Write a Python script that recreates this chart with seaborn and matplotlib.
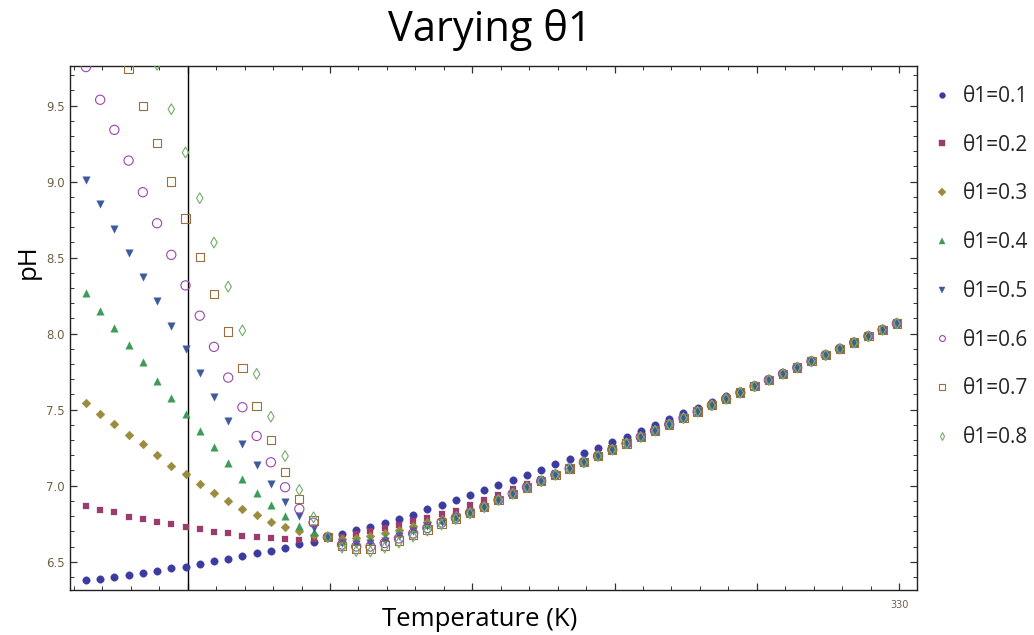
import numpy as np
import pandas as pd
import matplotlib
matplotlib.use("Agg")
import matplotlib.pyplot as plt
import seaborn as sns
from matplotlib.ticker import MultipleLocator, FixedLocator, FixedFormatter
from matplotlib.lines import Line2D

# ---------------- data ----------------
temperature = [301.42, 301.92, 302.42, 302.92, 303.42, 303.92, 304.42, 304.92, 305.42, 305.92,
               306.42, 306.92, 307.42, 307.92, 308.42, 308.92, 309.42, 309.92, 310.42, 310.92,
               311.42, 311.92, 312.42, 312.92, 313.42, 313.92, 314.42, 314.92, 315.42, 315.92,
               316.42, 316.92, 317.42, 317.92, 318.42, 318.92, 319.42, 319.92, 320.42, 320.92,
               321.42, 321.92, 322.42, 322.92, 323.42, 323.92, 324.42, 324.92, 325.42, 325.92,
               326.42, 326.92, 327.42, 327.92, 328.42, 328.92, 329.42, 329.92]

# shared high-temperature part of the curves for theta1 = 0.3 ... 0.8
common_tail = [6.906, 6.947, 6.989, 7.030, 7.071, 7.112, 7.154, 7.195, 7.237, 7.278,
               7.320, 7.362, 7.403, 7.445, 7.487, 7.529, 7.571, 7.612, 7.654, 7.695,
               7.736, 7.777, 7.818, 7.859, 7.900, 7.941, 7.983, 8.025, 8.067]

ph_01 = [6.380, 6.388, 6.397, 6.412, 6.424, 6.441, 6.457, 6.467, 6.485, 6.503,
         6.518, 6.539, 6.555, 6.568, 6.590, 6.616, 6.632, 6.662, 6.680, 6.707,
         6.730, 6.755, 6.781, 6.809, 6.845, 6.871,
         6.904, 6.938, 6.971, 7.005, 7.039, 7.071, 7.106, 7.140, 7.178, 7.213,
         7.251, 7.286, 7.321, 7.359, 7.398, 7.436, 7.475, 7.510, 7.549, 7.587,
         7.625, 7.664, 7.703, 7.743, 7.782, 7.822, 7.862, 7.903, 7.943, 7.984,
         8.026, 8.067]

ph_02 = [6.868, 6.842, 6.825, 6.796, 6.781, 6.763, 6.746, 6.730, 6.712, 6.695,
         6.686, 6.669, 6.661, 6.657, 6.649, 6.645, 6.647, 6.662,
         6.664, 6.684, 6.700, 6.720, 6.742, 6.765, 6.790, 6.812,
         6.836, 6.871, 6.906, 6.940, 6.975, 7.011, 7.047, 7.084, 7.122, 7.162,
         7.201, 7.241, 7.281, 7.322, 7.363,
         7.403, 7.445, 7.487, 7.529, 7.571, 7.612, 7.654, 7.695, 7.736, 7.777,
         7.818, 7.859, 7.900, 7.941, 7.983, 8.025, 8.067]

ph_03 = [7.542, 7.472, 7.404, 7.334, 7.272, 7.202, 7.132, 7.074, 7.011, 6.950,
         6.899, 6.847, 6.807, 6.759, 6.726, 6.699, 6.676, 6.662,
         6.649, 6.656, 6.666, 6.686, 6.709, 6.732, 6.758, 6.784, 6.804, 6.834,
         6.868] + common_tail

ph_04 = [8.266, 8.151, 8.036, 7.926, 7.812, 7.689, 7.575, 7.470, 7.360, 7.253,
         7.147, 7.044, 6.954, 6.873, 6.803, 6.738, 6.697, 6.662,
         6.636, 6.636, 6.643, 6.662, 6.689, 6.715, 6.745, 6.774, 6.797, 6.829,
         6.865] + common_tail

ph_05 = [9.011, 8.853, 8.687, 8.533, 8.375, 8.215, 8.053, 7.897, 7.739, 7.582,
         7.426, 7.274, 7.136, 7.009, 6.895, 6.801, 6.722, 6.662,
         6.623, 6.616, 6.620, 6.639, 6.669, 6.699, 6.732, 6.764, 6.792, 6.825,
         6.862] + common_tail

ph_06 = [9.753, 9.538, 9.340, 9.138, 8.930, 8.726, 8.518, 8.317, 8.118, 7.913,
         7.711, 7.516, 7.327, 7.154, 6.990, 6.847, 6.757, 6.662,
         6.613, 6.600, 6.600, 6.623, 6.653, 6.686, 6.722, 6.758, 6.788, 6.822,
         6.861] + common_tail

ph_07 = [None, None, None, 9.739, 9.498, 9.253, 9.000, 8.757, 8.503, 8.259,
         8.013, 7.772, 7.524, 7.301, 7.092, 6.911, 6.771, 6.662,
         6.603, 6.584, 6.582, 6.607, 6.639, 6.676, 6.712, 6.751, 6.784, 6.819,
         6.859] + common_tail

ph_08 = [None, None, None, None, None, 9.768, 9.476, 9.191, 8.891, 8.599,
         8.309, 8.021, 7.735, 7.454, 7.195, 6.972, 6.792, 6.662,
         6.593, 6.570, 6.567, 6.593, 6.626, 6.666, 6.705, 6.745, 6.781, 6.817,
         6.858] + common_tail

series_labels = ["θ1=0.1", "θ1=0.2", "θ1=0.3", "θ1=0.4",
                 "θ1=0.5", "θ1=0.6", "θ1=0.7", "θ1=0.8"]
series_values = [ph_01, ph_02, ph_03, ph_04, ph_05, ph_06, ph_07, ph_08]

y_tick_values = [6.5, 7.0, 7.5, 8.0, 8.5, 9.0, 9.5]
y_tick_labels = ["6.5", "7.0", "7.5", "8.0", "8.5", "9.0", "9.5"]
x_tick_values = [305, 310, 315, 320, 325, 330]
x_tick_labels = ["", "", "", "", "", "330"]
marker_line_T = 305

# ---------------- styles ----------------
colors = ["#3b3ba0", "#9a3d6e", "#9a8b3d", "#3d9a58",
          "#3d5a9a", "#9c44b0", "#9a6e3d", "#74ad68"]
markers = ["o", "s", "D", "^", "v", "o", "s", "d"]
filled = [True, True, True, True, True, False, False, False]
sizes = [30, 21, 21, 30, 30, 44, 36, 30]

sns.set_theme(style="ticks")
plt.rcParams['font.family'] = ['Open Sans', 'DejaVu Sans']

fig = plt.figure(figsize=(10.34, 6.35), dpi=100)
ax = fig.add_axes([70 / 1034, 1 - 590 / 635, 847 / 1034, 524 / 635])

for vals, lab, c, m, f, s in zip(series_values, series_labels, colors, markers, filled, sizes):
    df = pd.DataFrame({"Temperature": temperature,
                       "pH": [np.nan if v is None else v for v in vals]}).dropna()
    if f:
        sns.scatterplot(data=df, x="Temperature", y="pH", ax=ax, marker=m,
                        color=c, edgecolor=c, linewidth=0.2, s=s, zorder=3, legend=False)
    else:
        sns.scatterplot(data=df, x="Temperature", y="pH", ax=ax, marker=m,
                        color=c, facecolor="none", edgecolor=c, linewidth=0.8,
                        s=s, zorder=3, legend=False)

ax.axvline(marker_line_T, color="black", lw=1.0, zorder=2)

ax.set_xlim(300.86, 330.63)
ax.set_ylim(6.314, 9.76)

ax.yaxis.set_major_locator(FixedLocator(y_tick_values))
ax.yaxis.set_major_formatter(FixedFormatter(y_tick_labels))
ax.yaxis.set_minor_locator(MultipleLocator(0.1))
ax.xaxis.set_major_locator(FixedLocator(x_tick_values))
ax.xaxis.set_major_formatter(FixedFormatter(x_tick_labels))
ax.xaxis.set_minor_locator(MultipleLocator(1))

tick_col = "#6e6046"
ax.tick_params(which="both", direction="in", top=True, right=True,
               color="#333333", labelcolor=tick_col)
ax.tick_params(which="major", length=5, width=0.9, labelsize=8.5, pad=4)
ax.tick_params(which="minor", length=3, width=0.7)
ax.tick_params(axis="x", which="major", pad=7, labelsize=7)
for lab in ax.get_yticklabels() + ax.get_xticklabels():
    lab.set_family("DejaVu Sans")
for sp in ax.spines.values():
    sp.set_color("#222222")
    sp.set_linewidth(1.0)

ax.set_xlabel("")
ax.set_ylabel("")
fig.text(480 / 1034, 1 - 620 / 635, "Temperature (K)", ha="center", va="center",
         fontsize=18.5, color="black")
fig.text(28 / 1034, 1 - 262 / 635, "pH", ha="center", va="center", rotation=90,
         fontsize=18.5, color="black")
fig.text(490 / 1034, 1 - 30 / 635, "Varying θ1", ha="center", va="center",
         fontsize=30, color="black")

handles = []
for lab, c, m, f in zip(series_labels, colors, markers, filled):
    handles.append(Line2D([], [], linestyle="none", marker=m, markersize=4.2,
                          markerfacecolor=c if f else "none",
                          markeredgecolor=c, markeredgewidth=0.8 if not f else 0.3,
                          label=lab))
fig.legend(handles=handles, labels=series_labels, loc="upper left",
           bbox_to_anchor=(934 / 1034, 1 - 86 / 635), frameon=False,
           fontsize=15, labelspacing=1.33, handlelength=0.8, handletextpad=0.6,
           borderpad=0, borderaxespad=0)

fig.savefig("out.png", dpi=100)
